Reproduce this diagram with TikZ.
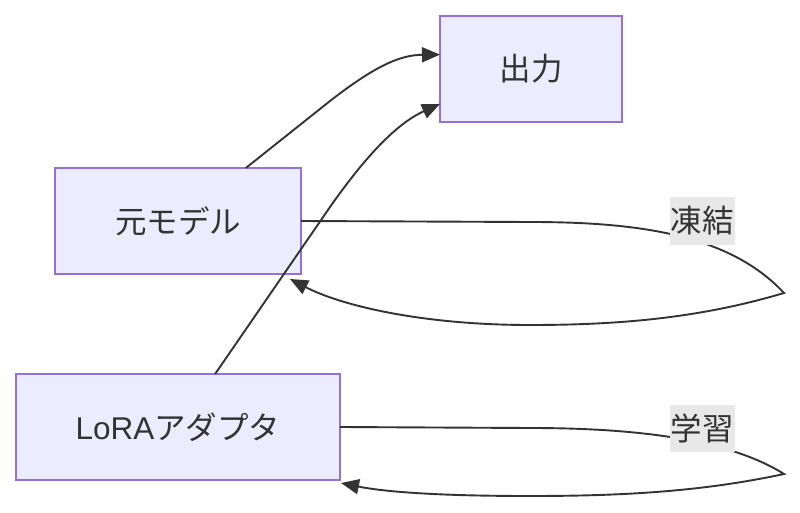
\documentclass[tikz,border=0pt]{standalone}
\usepackage{fontspec}
\setmainfont{Liberation Sans}
\newfontfamily\jp{Noto Sans CJK JP}
\usetikzlibrary{arrows.meta,calc}
\definecolor{nodefill}{HTML}{ECECFF}
\definecolor{nodeborder}{HTML}{9370DB}
\definecolor{edgecol}{HTML}{333333}
\definecolor{lblbg}{HTML}{E8E8E8}
\begin{document}
\begin{tikzpicture}[x=1pt,y=-1pt,
  box/.style={draw=nodeborder, fill=nodefill, line width=1.8pt, inner sep=0pt, outer sep=0pt,
    minimum height=106pt, font=\fontsize{31.5}{36}\selectfont, text=edgecol},
  lbl/.style={fill=lblbg, inner sep=0pt, minimum width=65pt, minimum height=47pt,
    font=\fontsize{31.5}{36}\selectfont\jp, text=edgecol},
  conn/.style={draw=edgecol, line width=1.9pt, -{Triangle[length=18pt,width=15pt]}}]
\useasboundingbox (0,0) rectangle (800,513);
\node[box, minimum width=182pt] (o) at (531,69) {\jp 出力};
\node[box, minimum width=246pt] (m) at (178,221) {\jp 元モデル};
\node[box, minimum width=324pt] (l) at (178,427) {LoRA{\jp アダプタ}};
\coordinate (mend) at (290,279);
\coordinate (lend) at (341,483);
% edges to output
\draw[conn] (m.38.9) -- (330,101) .. controls (375,66) and (400,55) .. (o.171.3);
\draw[conn] (l.55.1) -- (330,207) .. controls (370,150) and (400,122) .. (o.201.6);
% self loops
\draw[conn] (m.east) -- (530,222) .. controls (640,222) and (730,235) .. (784,293)
  .. controls (700,318) and (620,325) .. (530,325) .. controls (420,325) and (340,305) .. (mend);
\draw[conn] (l.east) -- (530,428) .. controls (640,428) and (730,440) .. (784,474)
  .. controls (700,492) and (620,496) .. (530,496) .. controls (440,496) and (385,492) .. (lend);
\node[lbl] (f) at (702,221) {凍結};
\node[lbl] (t) at (702,428) {学習};
\end{tikzpicture}
\end{document}
